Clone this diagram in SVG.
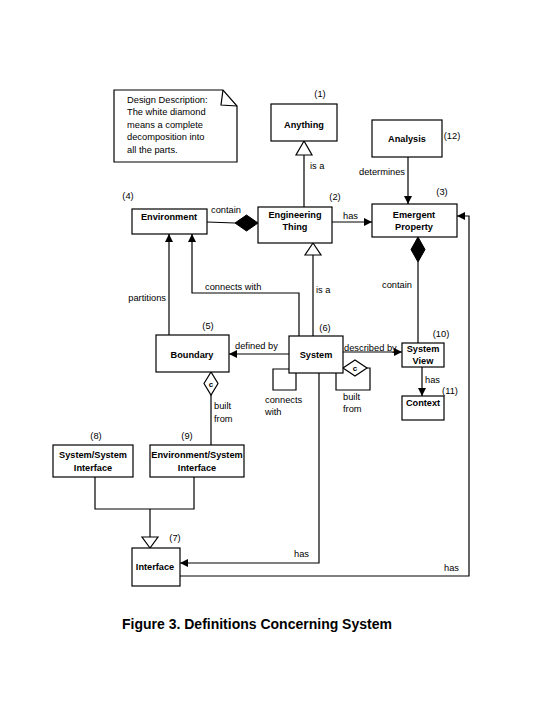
<svg xmlns="http://www.w3.org/2000/svg" width="540" height="720" viewBox="0 0 540 720">
<style>
.box{fill:#fff;stroke:#000;stroke-width:1.2}
.ln{fill:none;stroke:#000;stroke-width:1.2}
text{font-family:"Liberation Sans",Arial,sans-serif;fill:#000}
.nm{font-size:9.2px;font-weight:bold;text-anchor:middle}
.lb{font-size:9.3px}
.num{font-size:9.3px;text-anchor:middle}
</style>
<defs>
<marker id="ah" viewBox="0 0 8 8" refX="8" refY="4" markerWidth="8" markerHeight="8" markerUnits="userSpaceOnUse" orient="auto">
<path d="M0,0 L8,4 L0,8 z" fill="#000"/>
</marker>
</defs>
<rect width="540" height="720" fill="#fff"/>

<g id="note">
<path class="ln" d="M114,90 H223 L237,106 V162 H114 Z" fill="#fff"/>
<path class="ln" d="M223,90 L221,105 L237,106"/>
<text class="lb" x="127" y="103">Design Description:</text>
<text class="lb" x="127" y="115">The white diamond</text>
<text class="lb" x="127" y="128">means a complete</text>
<text class="lb" x="127" y="140">decomposition into</text>
<text class="lb" x="127" y="153">all the parts.</text>
</g>

<g id="connectors">
<path class="ln" d="M304,155 V207"/>
<path class="ln" d="M304,141 L296,155 H312 Z" fill="#fff"/>
<text class="lb" x="310" y="169">is a</text>
<path class="ln" d="M408,157 V204" marker-end="url(#ah)"/>
<text class="lb" x="405" y="175" text-anchor="end">determines</text>
<path class="ln" d="M207,222 L235,223"/>
<path d="M235,223 L246.5,215 L258,223 L246.5,231 Z" fill="#000" stroke="#000"/>
<text class="lb" x="211" y="213">contain</text>
<path class="ln" d="M332,222 H372" marker-end="url(#ah)"/>
<text class="lb" x="343" y="219">has</text>
<path class="ln" d="M313,255 V336"/>
<path class="ln" d="M313,243 L305,255 H321 Z" fill="#fff"/>
<text class="lb" x="316" y="293">is a</text>
<path class="ln" d="M169,335 V234" marker-end="url(#ah)"/>
<text class="lb" x="166" y="301" text-anchor="end">partitions</text>
<path class="ln" d="M299,336 V293 H192 V234" marker-end="url(#ah)"/>
<text class="lb" x="205" y="290">connects with</text>
<path class="ln" d="M418,262 V343"/>
<path d="M418,237 L411,249.5 L418,262 L425,249.5 Z" fill="#000" stroke="#000"/>
<text class="lb" x="382" y="288">contain</text>
<path class="ln" d="M289,354 H229" marker-end="url(#ah)"/>
<text class="lb" x="235" y="349">defined by</text>
<path class="ln" d="M343,352 H402" marker-end="url(#ah)"/>
<text class="lb" x="344" y="351">described by</text>
<path class="ln" d="M422,367 V396" marker-end="url(#ah)"/>
<text class="lb" x="425" y="383">has</text>
<path class="ln" d="M289,369 H273 V390 H296 V373"/>
<text class="lb" x="265" y="403">connects</text>
<text class="lb" x="265" y="415">with</text>
<path class="ln" d="M367,368 H370 V390 H336 V373"/>
<path class="ln" d="M343,368 L355,360 L367,368 L355,376 Z" fill="#fff"/>
<text x="355" y="371" style="font-size:8px;font-weight:bold;text-anchor:middle">c</text>
<text class="lb" x="343" y="400">built</text>
<text class="lb" x="343" y="412">from</text>
<path class="ln" d="M211,395 V445"/>
<path class="ln" d="M211,372 L204,383.5 L211,395 L218,383.5 Z" fill="#fff"/>
<text x="211" y="386.5" style="font-size:8px;font-weight:bold;text-anchor:middle">c</text>
<text class="lb" x="214" y="409">built</text>
<text class="lb" x="214" y="422">from</text>
<path class="ln" d="M95,477 V509 H194 V477 M150,509 V537"/>
<path class="ln" d="M150,548 L142,537 H158 Z" fill="#fff"/>
<path class="ln" d="M319,373 V563 H180" marker-end="url(#ah)"/>
<text class="lb" x="294" y="557">has</text>
<path class="ln" d="M180,576 H469 V216 H457" marker-end="url(#ah)"/>
<text class="lb" x="444" y="571">has</text>
</g>

<g id="anything">
<rect class="box" x="271" y="104" width="66" height="37"/>
<text class="nm" x="304" y="128">Anything</text>
<text class="num" x="320" y="97">(1)</text>
</g>
<g id="engineering-thing">
<rect class="box" x="258" y="207" width="74" height="36"/>
<text class="nm" x="295" y="218">Engineering</text>
<text class="nm" x="295" y="230">Thing</text>
<text class="num" x="335" y="200">(2)</text>
</g>
<g id="analysis">
<rect class="box" x="372" y="120" width="70" height="37"/>
<text class="nm" x="407" y="142">Analysis</text>
<text class="num" x="452" y="139">(12)</text>
</g>
<g id="emergent-property">
<rect class="box" x="372" y="204" width="85" height="33"/>
<text class="nm" x="414" y="218">Emergent</text>
<text class="nm" x="414" y="230">Property</text>
<text class="num" x="442" y="195">(3)</text>
</g>
<g id="environment">
<rect class="box" x="132" y="209" width="75" height="25"/>
<text class="nm" x="169" y="220">Environment</text>
<text class="num" x="128" y="199">(4)</text>
</g>
<g id="boundary">
<rect class="box" x="156" y="335" width="73" height="37"/>
<text class="nm" x="192" y="358">Boundary</text>
<text class="num" x="208" y="329">(5)</text>
</g>
<g id="system">
<rect class="box" x="289" y="336" width="54" height="37"/>
<text class="nm" x="316" y="358">System</text>
<text class="num" x="325" y="331">(6)</text>
</g>
<g id="system-view">
<rect class="box" x="402" y="343" width="42" height="24"/>
<text class="nm" x="423" y="352">System</text>
<text class="nm" x="423" y="364">View</text>
<text class="num" x="441" y="337">(10)</text>
</g>
<g id="context">
<rect class="box" x="402" y="396" width="42" height="24"/>
<text class="nm" x="423" y="406">Context</text>
<text class="num" x="450" y="394">(11)</text>
</g>
<g id="system-system-interface">
<rect class="box" x="53" y="445" width="80" height="32"/>
<text class="nm" x="93" y="458">System/System</text>
<text class="nm" x="93" y="471">Interface</text>
<text class="num" x="96" y="439">(8)</text>
</g>
<g id="environment-system-interface">
<rect class="box" x="150" y="445" width="94" height="32"/>
<text class="nm" x="197" y="458">Environment/System</text>
<text class="nm" x="197" y="471">Interface</text>
<text class="num" x="187" y="439">(9)</text>
</g>
<g id="interface">
<rect class="box" x="132" y="548" width="48" height="38"/>
<text class="nm" x="155" y="570">Interface</text>
<text class="num" x="175" y="541">(7)</text>
</g>

<text x="122" y="629" style="font-size:14px;font-weight:bold">Figure 3. Definitions Concerning System</text>
</svg>
